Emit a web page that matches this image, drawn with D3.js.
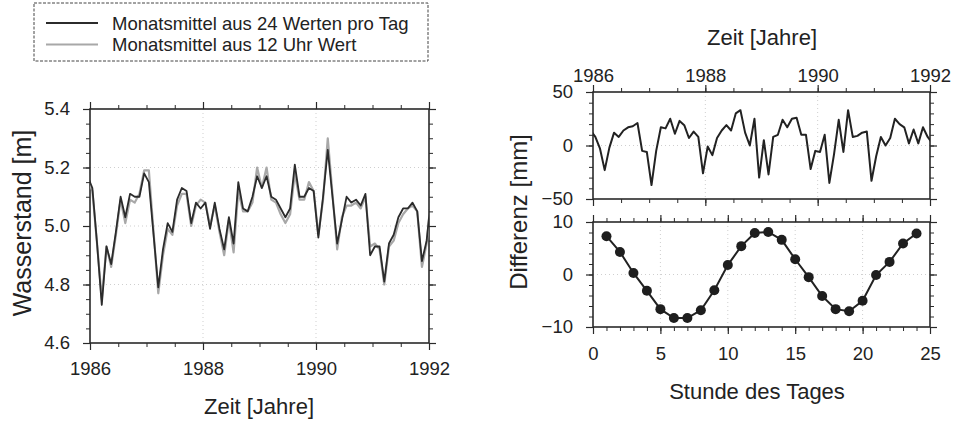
<!DOCTYPE html>
<html><head><meta charset="utf-8">
<script src="https://cdn.jsdelivr.net/npm/d3@7"></script>
<style>
body{margin:0;background:#fff}
svg{display:block}
text{font-family:"Liberation Sans",Arial,Helvetica,sans-serif;fill:#222}
</style>
</head><body>
<svg id="c" width="955" height="423"></svg>
<script>
// ---------- DATA ----------
// Monthly samples (mid-month), Dec 1985 .. Jan 1992 (first/last are clipped at the frame)
const monthStart = 1986;
const stand24 = [5.17,
  5.13,4.94,4.73,4.93,4.87,4.98,5.10,5.03,5.11,5.10,5.10,5.18,
  5.15,4.97,4.79,4.92,5.01,4.98,5.09,5.13,5.12,5.01,5.08,5.06,
  5.08,4.99,5.08,4.99,4.92,5.03,4.94,5.15,5.06,5.05,5.10,5.17,
  5.13,5.17,5.10,5.09,5.06,5.03,5.06,5.21,5.10,5.10,5.13,5.12,
  4.96,5.10,5.26,5.10,4.94,5.02,5.10,5.08,5.09,5.07,5.11,4.90,
  4.93,4.93,4.81,4.94,4.97,5.03,5.06,5.06,5.08,5.05,4.88,4.95,
  5.11];
const stand12 = [5.16,
  5.12,4.94,4.75,4.93,4.86,4.97,5.09,5.01,5.09,5.08,5.11,5.19,
  5.19,4.98,4.77,4.90,4.99,4.97,5.07,5.11,5.11,5.00,5.07,5.09,
  5.08,5.00,5.07,4.98,4.90,5.02,4.91,5.12,5.05,5.05,5.08,5.20,
  5.13,5.20,5.09,5.08,5.04,5.01,5.04,5.18,5.09,5.09,5.15,5.12,
  4.97,5.09,5.30,5.11,4.92,5.03,5.07,5.07,5.08,5.06,5.10,4.93,
  4.94,4.92,4.80,4.93,4.95,5.01,5.04,5.06,5.07,5.05,4.86,4.94,
  5.10];
const diffMonthly = [14,
  8,-3,-23,-2,12,8,14,17,18,21,-5,-6,
  -37,-5,17,16,25,11,23,19,7,13,8,-26,
  -1,-9,7,14,19,14,30,33,12,0,25,-30,
  5,-27,8,10,24,17,25,26,10,10,-22,-5,
  -6,10,-35,-8,24,-6,33,8,9,12,13,-33,
  -10,8,0,7,25,20,17,2,15,2,17,8,
  2];
const hours = [1,2,3,4,5,6,7,8,9,10,11,12,13,14,15,16,17,18,19,20,21,22,23,24];
const diffHourly = [7.3,4.3,0.3,-3.1,-6.6,-8.3,-8.3,-6.8,-3.0,1.8,5.4,7.9,8.1,6.6,2.9,-0.5,-4.1,-6.6,-7.0,-5.0,-0.1,2.4,5.9,7.8];

const yearTicks = [1986,1988,1990,1992];
const standTicks = [4.6,4.8,5.0,5.2,5.4];
const diffTicks = [-50,0,50];
const hourDiffTicks = [-10,0,10];
const hourTicks = [0,5,10,15,20,25];
const legendLabels = ["Monatsmittel aus 24 Werten pro Tag","Monatsmittel aus 12 Uhr Wert"];

const times = stand24.map((_, k) => monthStart + (k - 0.5) / 12);

// ---------- DRAW ----------
const svg = d3.select("#c");
const INK = "#2a2a2a";
const TICKFS = 18.5;

function range(a, b, s) { const r = []; for (let v = a; v <= b + 1e-9; v += s) r.push(+v.toFixed(6)); return r; }

function frame(g, x, y, cfg) {
  const [x0, x1] = x.range(), [yb, yt] = y.range();
  const grid = g.append("g").attr("stroke", "#cfcfcf").attr("stroke-dasharray", "1,3").attr("stroke-width", 1);
  grid.selectAll(".gx").data(cfg.gridX || []).join("line")
    .attr("x1", d => x(d)).attr("x2", d => x(d)).attr("y1", yt).attr("y2", yb);
  grid.selectAll(".gy").data(cfg.gridY || []).join("line")
    .attr("y1", d => y(d)).attr("y2", d => y(d)).attr("x1", x0).attr("x2", x1);

  const sides = [
    {ax: d3.axisBottom, tr: `translate(0,${yb})`, sc: x, major: cfg.xMajor, minor: cfg.xMinor, lab: cfg.xBottomLabels, pad: cfg.xPadB || 6, fmt: cfg.xFmt},
    {ax: d3.axisTop, tr: `translate(0,${yt})`, sc: x, major: cfg.xMajor, minor: cfg.xMinor, lab: cfg.xTopLabels, pad: cfg.xPadT || 6, fmt: cfg.xFmt},
    {ax: d3.axisLeft, tr: `translate(${x0},0)`, sc: y, major: cfg.yMajor, minor: cfg.yMinor, lab: true, pad: cfg.yPad || 12, fmt: cfg.yFmt},
    {ax: d3.axisRight, tr: `translate(${x1},0)`, sc: y, major: cfg.yMajor, minor: cfg.yMinor, lab: false, pad: 4, fmt: cfg.yFmt}
  ];
  sides.forEach(s => {
    g.append("g").attr("transform", s.tr).style("color", INK)
      .call(s.ax(s.sc).tickValues(s.minor).tickSize(4).tickSizeOuter(0).tickFormat(""))
      .call(a => a.select(".domain").remove())
      .selectAll("line").attr("stroke-width", 1);
    const ag = g.append("g").attr("transform", s.tr).style("color", INK)
      .call(s.ax(s.sc).tickValues(s.major).tickSize(7).tickSizeOuter(0).tickPadding(s.pad)
        .tickFormat(s.lab ? s.fmt : ""))
      .attr("font-family", null).attr("font-size", null);
    ag.select(".domain").remove();
    ag.selectAll("line").attr("stroke-width", 1.2);
    ag.selectAll("text").style("font-size", TICKFS + "px").attr("fill", "#222");
  });
  g.append("rect").attr("x", x0).attr("y", yt).attr("width", x1 - x0).attr("height", yb - yt)
    .attr("fill", "none").attr("stroke", INK).attr("stroke-width", 1.6);
}

const defs = svg.append("defs");

// ---- Left panel: Wasserstand ----
const xL = d3.scaleLinear().domain([1986, 1992]).range([90, 429]);
const yL = d3.scaleLinear().domain([4.6, 5.4]).range([343, 109]);
const gL = svg.append("g");
defs.append("clipPath").attr("id", "clipL").append("rect")
  .attr("x", 90).attr("y", 109).attr("width", 339).attr("height", 234);
frame(gL, xL, yL, {
  xMajor: yearTicks, xMinor: range(1986, 1992, 0.5), xBottomLabels: true, xTopLabels: false,
  yMajor: standTicks, yMinor: range(4.6, 5.4, 0.05),
  xFmt: d3.format("d"), yFmt: d3.format(".1f"),
  gridX: [1988, 1990], gridY: [4.8, 5.0, 5.2], xPadB: 12, yPad: 13
});
const lineL = (arr) => d3.line().x((d, i) => xL(times[i])).y(d => yL(d))(arr);
gL.append("path").attr("clip-path", "url(#clipL)").attr("d", lineL(stand12))
  .attr("fill", "none").attr("stroke", "#a8a8a8").attr("stroke-width", 2.2).attr("stroke-linejoin", "round");
gL.append("path").attr("clip-path", "url(#clipL)").attr("d", lineL(stand24))
  .attr("fill", "none").attr("stroke", "#2b2b2b").attr("stroke-width", 1.8).attr("stroke-linejoin", "round");

gL.append("text").attr("x", 259).attr("y", 414).attr("text-anchor", "middle")
  .style("font-size", "22px").text("Zeit [Jahre]");
gL.append("text").attr("transform", "translate(31,223) rotate(-90)").attr("text-anchor", "middle")
  .style("font-size", "25px").text("Wasserstand [m]");

// Legend
const lg = svg.append("g");
lg.append("rect").attr("x", 34).attr("y", 3).attr("width", 394).attr("height", 58)
  .attr("fill", "#fff").attr("stroke", "#444").attr("stroke-width", 1).attr("stroke-dasharray", "3,1.5");
const legColors = ["#2b2b2b", "#a8a8a8"];
const legWidths = [2, 1.8];
legendLabels.forEach((t, i) => {
  const yy = 23 + i * 21.5;
  lg.append("line").attr("x1", 46).attr("x2", 98).attr("y1", yy).attr("y2", yy)
    .attr("stroke", legColors[i]).attr("stroke-width", legWidths[i]);
  lg.append("text").attr("x", 112).attr("y", yy + 6.5).style("font-size", "18.5px").text(t);
});

// ---- Right top panel: Differenz monthly ----
const xT = d3.scaleLinear().domain([1986, 1992]).range([593, 930]);
const yT = d3.scaleLinear().domain([-50, 50]).range([199, 92]);
const gT = svg.append("g");
defs.append("clipPath").attr("id", "clipT").append("rect")
  .attr("x", 593).attr("y", 92).attr("width", 337).attr("height", 107);
frame(gT, xT, yT, {
  xMajor: yearTicks, xMinor: range(1986, 1992, 0.5), xBottomLabels: false, xTopLabels: true,
  yMajor: diffTicks, yMinor: range(-50, 50, 10),
  xFmt: d3.format("d"), yFmt: d3.format("d"),
  gridX: [1988, 1990], gridY: [0], xPadT: 3, yPad: 13
});
gT.append("path").attr("clip-path", "url(#clipT)")
  .attr("d", d3.line().x((d, i) => xT(times[i])).y(d => yT(d))(diffMonthly))
  .attr("fill", "none").attr("stroke", "#222").attr("stroke-width", 2).attr("stroke-linejoin", "round");
gT.append("text").attr("x", 762).attr("y", 45).attr("text-anchor", "middle")
  .style("font-size", "22px").text("Zeit [Jahre]");

// ---- Right bottom panel: Differenz hourly ----
const xB = d3.scaleLinear().domain([0, 25]).range([593, 930]);
const yB = d3.scaleLinear().domain([-10, 10]).range([327, 222]);
const gB = svg.append("g");
frame(gB, xB, yB, {
  xMajor: hourTicks, xMinor: range(0, 25, 1), xBottomLabels: true, xTopLabels: false,
  yMajor: hourDiffTicks, yMinor: range(-10, 10, 2),
  xFmt: d3.format("d"), yFmt: d3.format("d"),
  gridX: [5, 10, 15, 20], gridY: [0], xPadB: 13, yPad: 13
});
gB.append("path")
  .attr("d", d3.line().x((d, i) => xB(hours[i])).y(d => yB(d))(diffHourly))
  .attr("fill", "none").attr("stroke", "#222").attr("stroke-width", 2);
gB.selectAll("circle.pt").data(diffHourly).join("circle")
  .attr("cx", (d, i) => xB(hours[i])).attr("cy", d => yB(d)).attr("r", 5).attr("fill", "#1e1e1e");
gB.append("text").attr("x", 757).attr("y", 399).attr("text-anchor", "middle")
  .style("font-size", "22px").text("Stunde des Tages");
svg.append("text").attr("transform", "translate(527,212) rotate(-90)").attr("text-anchor", "middle")
  .style("font-size", "24px").text("Differenz [mm]");
</script>
</body></html>
